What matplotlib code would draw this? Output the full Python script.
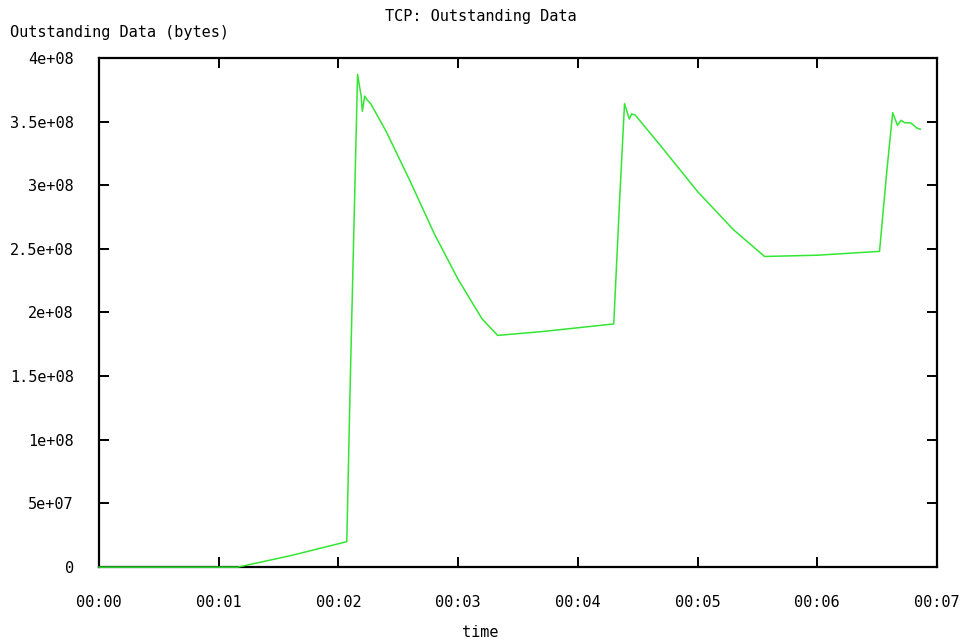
import matplotlib; matplotlib.use("Agg")
import matplotlib.pyplot as plt
from matplotlib.ticker import FuncFormatter, MultipleLocator

# time in seconds, outstanding data in bytes
t = [0.0, 0.50, 1.00, 1.16, 1.60, 2.07, 2.10, 2.16, 2.19, 2.20, 2.22, 2.24, 2.27,
     2.40, 2.60, 2.80, 3.00, 3.20, 3.33, 3.70, 4.00, 4.30, 4.35, 4.39, 4.43, 4.45,
     4.48, 4.70, 5.00, 5.30, 5.56, 6.00, 6.52, 6.58, 6.63, 6.67, 6.70, 6.73, 6.78,
     6.83, 6.86]
outstanding = [0.0, 0.0, 0.0, 0.0, 0.9e7, 2.0e7, 1.5e8, 3.87e8, 3.70e8, 3.58e8,
               3.70e8, 3.67e8, 3.64e8, 3.42e8, 3.03e8, 2.62e8, 2.26e8, 1.95e8,
               1.82e8, 1.85e8, 1.88e8, 1.91e8, 2.9e8, 3.64e8, 3.52e8, 3.56e8,
               3.55e8, 3.30e8, 2.95e8, 2.65e8, 2.44e8, 2.45e8, 2.48e8, 3.10e8,
               3.57e8, 3.47e8, 3.51e8, 3.49e8, 3.49e8, 3.45e8, 3.44e8]
xticks = [0, 1, 2, 3, 4, 5, 6, 7]

plt.rcParams.update({"font.family": "DejaVu Sans Mono", "font.size": 11})
fig = plt.figure(figsize=(9.61, 6.43), dpi=100)
ax = fig.add_axes([0.103, 0.118, 0.872, 0.792])
ax.plot(t, outstanding, color="#33e633", lw=1.1, zorder=5, clip_on=False)
ax.set_xlim(0, 7); ax.set_ylim(0, 4e8)
ax.set_xticks(xticks)
ax.xaxis.set_major_formatter(FuncFormatter(lambda v, p: "00:%02d" % int(round(v))))
ax.yaxis.set_major_locator(MultipleLocator(5e7))

def yfmt(v, p):
    if v == 0:
        return "0"
    m, e = ("%e" % v).split("e")
    m = ("%g" % float(m))
    return "%se+%02d" % (m, int(e))
ax.yaxis.set_major_formatter(FuncFormatter(yfmt))
ax.tick_params(direction="in", length=7, width=1.4, top=True, right=True, colors="black")
ax.tick_params(axis="x", pad=20)
ax.tick_params(axis="y", pad=18)
for sp in ax.spines.values():
    sp.set_linewidth(1.6)
fig.text(0.5, 0.975, "TCP: Outstanding Data", ha="center", va="center")
fig.text(0.01, 0.950, "Outstanding Data (bytes)", ha="left", va="center")
fig.text(0.5, 0.017, "time", ha="center", va="center")
fig.savefig("out.png", dpi=100)
